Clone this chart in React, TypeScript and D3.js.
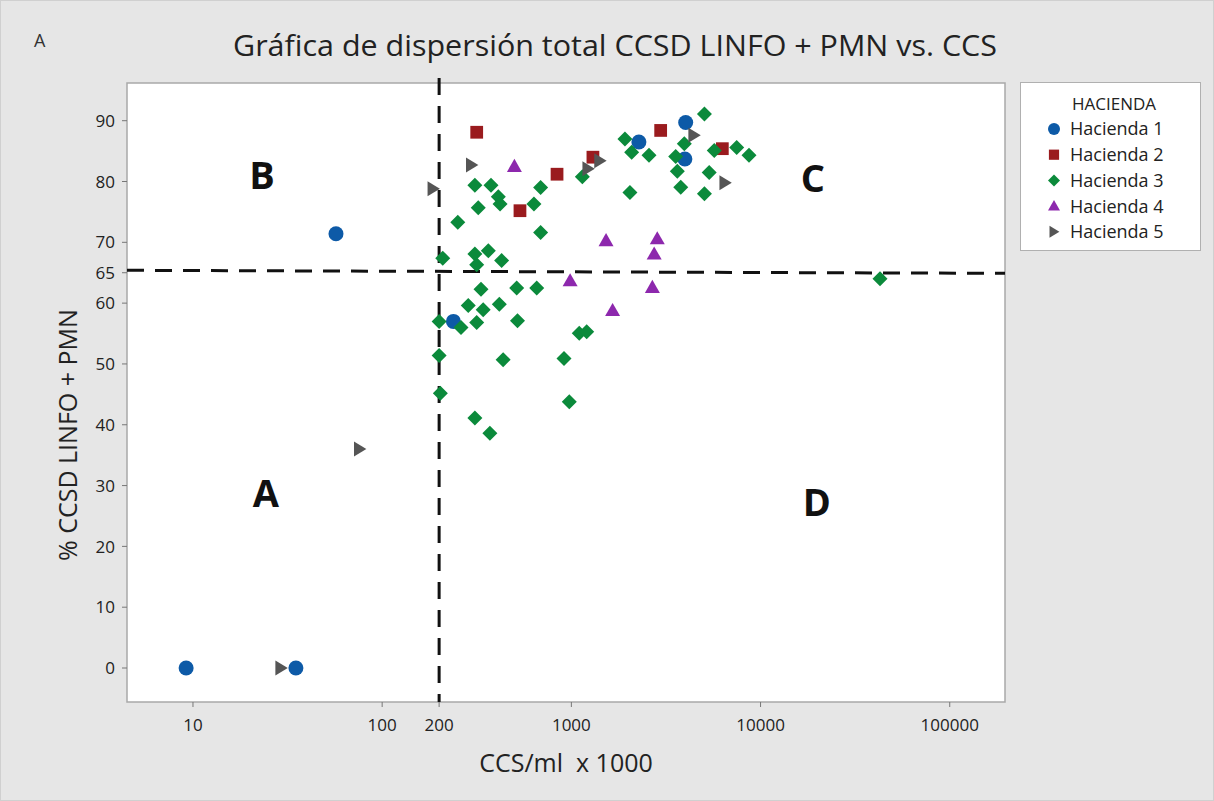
import React from "react";
import * as d3 from "d3";

const seriesNames = ["Hacienda 1", "Hacienda 2", "Hacienda 3", "Hacienda 4", "Hacienda 5"];
const seriesColors = ["#0d5aa7", "#9a1b1e", "#0b8a3b", "#8d28ad", "#555555"];
const seriesShapes = ["circle", "square", "diamond", "triangleUp", "triangleRight"];

// [CCS/ml x1000, % CCSD LINFO + PMN]
const hacienda1: [number, number][] = [
  [9.2, 0], [35, 0], [57, 71.4], [238, 57.0], [2275, 86.5], [4020, 89.7], [3980, 83.7],
];
const hacienda2: [number, number][] = [
  [316, 88.1], [535, 75.2], [840, 81.2], [1300, 84.0], [2965, 88.4], [6280, 85.4],
];
const hacienda3: [number, number][] = [
  [1143, 80.8], [309, 79.4], [376, 79.4], [411, 77.5], [420, 76.3], [322, 75.7], [634, 76.3],
  [688, 79.0], [251, 73.3], [688, 71.6], [209, 67.4], [309, 68.1], [364, 68.6], [316, 66.3],
  [428, 67.0], [333, 62.3], [514, 62.5], [656, 62.5], [5050, 91.1], [1920, 87.0], [2083, 84.8],
  [2572, 84.3], [3955, 86.2], [3560, 84.1], [3630, 81.7], [5690, 85.1], [7480, 85.6],
  [8690, 84.3], [5350, 81.5], [3785, 79.05], [5050, 78.0], [2040, 78.2], [285, 59.6],
  [342, 58.9], [416, 59.8], [200, 57.0], [261, 56.0], [316, 56.8], [519, 57.1], [1101, 55.05],
  [1205, 55.3], [200, 51.4], [436, 50.7], [914, 50.9], [203, 45.2], [975, 43.8], [309, 41.1],
  [371, 38.6], [42800, 64.0],
];
const hacienda4: [number, number][] = [
  [500, 82.5], [985, 63.7], [1525, 70.3], [2845, 70.6], [2740, 68.1], [2680, 62.6], [1652, 58.8],
];
const hacienda5: [number, number][] = [
  [297, 82.7], [186, 78.8], [1415, 83.4], [1225, 82.1], [4450, 87.6], [6490, 79.8], [76, 36.0], [29.2, 0],
];
const allSeries = [hacienda1, hacienda2, hacienda3, hacienda4, hacienda5];

const xTicks = [10, 100, 200, 1000, 10000, 100000];
const yTicks = [0, 10, 20, 30, 40, 50, 60, 65, 70, 80, 90];
const xDomain: [number, number] = [4.48, 195900];
const yDomain: [number, number] = [-5.59, 96.2];
const refX = 200;
const refYStart = 65.4;
const refYEnd = 64.9;

const quadrants = [
  { label: "B", x: 23.2, y: 78.8 },
  { label: "C", x: 18900, y: 78.3 },
  { label: "A", x: 24.3, y: 26.5 },
  { label: "D", x: 19860, y: 25.0 },
];

const W = 1214;
const H = 801;
const plot = { left: 127, right: 1005, top: 83, bottom: 702 };
const FONT = "'Open Sans', 'Noto Sans', sans-serif";

function shapePath(shape: string, s: number): string {
  const h = s / 2;
  switch (shape) {
    case "circle":
      return d3.symbol(d3.symbolCircle, Math.PI * h * h)() as string;
    case "square": {
      const q = h * 0.85;
      return `M${-q},${-q}H${q}V${q}H${-q}Z`;
    }
    case "diamond":
      return `M0,${-h}L${h},0L0,${h}L${-h},0Z`;
    case "triangleUp":
      return `M0,${-h}L${h},${h * 0.75}L${-h},${h * 0.75}Z`;
    case "triangleRight":
      return `M${h * 0.9},0L${-h * 0.75},${h}L${-h * 0.75},${-h}Z`;
  }
  return "";
}

export default function App() {
  const x = d3.scaleLog().domain(xDomain).range([plot.left, plot.right]);
  const y = d3.scaleLinear().domain(yDomain).range([plot.bottom, plot.top]);

  return (
    <div style={{ position: "fixed", left: 0, top: 0 }}>
      <svg width={W} height={H} style={{ display: "block" }} fontFamily={FONT}>
        <rect x={0} y={0} width={W} height={H} fill="#e6e6e6" />
        <rect x={0.5} y={0.5} width={W - 1} height={H - 1} fill="none" stroke="#d0d0d0" />
        <text x={34} y={47} fontSize={18} fill="#333">A</text>
        <text x={615} y={56} fontSize={29} textAnchor="middle" fill="#222" textLength={764} lengthAdjust="spacingAndGlyphs">
          Gráfica de dispersión total CCSD LINFO + PMN vs. CCS
        </text>

        {/* plot area */}
        <rect x={plot.left} y={plot.top} width={plot.right - plot.left} height={plot.bottom - plot.top}
          fill="#ffffff" stroke="#a9a9a9" strokeWidth={1.5} />

        {/* y ticks */}
        {yTicks.map((t) => (
          <g key={"y" + t}>
            <line x1={plot.left - 5} x2={plot.left} y1={y(t)} y2={y(t)} stroke="#777" />
            <text x={plot.left - 12} y={y(t)} dy="0.36em" fontSize={17} textAnchor="end" fill="#222">{t}</text>
          </g>
        ))}
        {/* x ticks */}
        {xTicks.map((t) => (
          <g key={"x" + t}>
            <line x1={x(t)} x2={x(t)} y1={plot.bottom} y2={plot.bottom + 5} stroke="#777" />
            <text x={x(t)} y={plot.bottom + 29} fontSize={17} textAnchor="middle" fill="#222">{t}</text>
          </g>
        ))}

        <text x={(plot.left + plot.right) / 2} y={772} fontSize={25} textAnchor="middle" fill="#222"
          style={{ whiteSpace: "pre" }}>
          CCS/ml  x 1000
        </text>
        <text transform={`translate(77, 435) rotate(-90)`} fontSize={25} textAnchor="middle" fill="#222">
          % CCSD LINFO + PMN
        </text>

        {/* reference lines */}
        <line x1={x(refX)} x2={x(refX)} y1={plot.top - 5} y2={plot.bottom} stroke="#111" strokeWidth={3}
          strokeDasharray="17 11" />
        <line x1={x(xDomain[0])} x2={x(xDomain[1])} y1={y(refYStart)} y2={y(refYEnd)} stroke="#111" strokeWidth={3}
          strokeDasharray="17 11" />

        {/* quadrant labels */}
        {quadrants.map((q) => (
          <text key={q.label} x={x(q.x)} y={y(q.y)} fontSize={38} fontWeight="bold" textAnchor="middle" fill="#111">
            {q.label}
          </text>
        ))}

        {/* points */}
        {allSeries.map((data, si) => (
          <g key={"s" + si} fill={seriesColors[si]}>
            {data.map((d, i) => (
              <path key={i} transform={`translate(${x(d[0])},${y(d[1])})`} d={shapePath(seriesShapes[si], 15)} />
            ))}
          </g>
        ))}

        {/* legend */}
        <rect x={1020.5} y={82.5} width={180} height={168} fill="#ffffff" stroke="#b0b0b0" />
        <text x={1072} y={104} dy="0.36em" fontSize={17} fill="#222">HACIENDA</text>
        {seriesNames.map((n, i) => (
          <g key={n}>
            <path transform={`translate(1054,${129 + i * 25.7})`} d={shapePath(seriesShapes[i], 12)} fill={seriesColors[i]} />
            <text x={1070} y={129 + i * 25.7} dy="0.36em" fontSize={18} fill="#222">{n}</text>
          </g>
        ))}
      </svg>
    </div>
  );
}
